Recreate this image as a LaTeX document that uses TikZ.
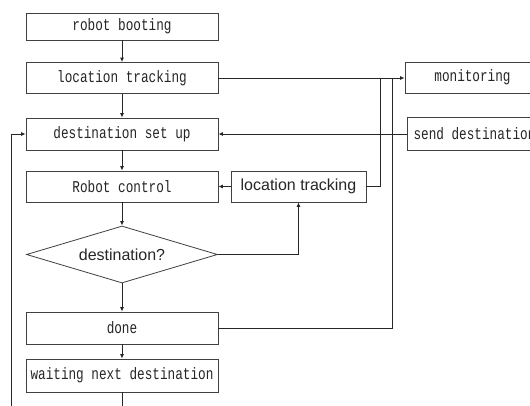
\documentclass[tikz,border=0pt]{standalone}
\usepackage{fontspec}
\setmainfont{Liberation Sans}
\newfontfamily\monofnt[FakeStretch=0.77]{Liberation Mono}
\usetikzlibrary{shapes.geometric,arrows.meta}
\begin{document}
\begin{tikzpicture}[x=1pt,y=-1pt,
  ln/.style={draw=black!85,line width=0.9pt},
  arr/.style={ln,-{Latex[length=4.5pt,width=4pt]}},
  mbox/.style={draw=black!75,line width=0.8pt,rectangle,inner sep=0pt,text=black!85,font=\monofnt\fontsize{16.5}{17}\selectfont},
  sbox/.style={draw=black!75,line width=0.8pt,rectangle,inner sep=0pt,text=black!85,font=\fontsize{16}{17}\selectfont}]
\useasboundingbox[fill=white] (0,0) rectangle (530,405);
\node[mbox,minimum width=192pt,minimum height=27pt] (boot) at (122,26.5) {robot booting};
\node[mbox,minimum width=192pt,minimum height=31pt] (loc1) at (122,78) {location tracking};
\node[mbox,minimum width=192pt,minimum height=32pt] (dest) at (122,134) {destination set up};
\node[mbox,minimum width=192pt,minimum height=31pt] (ctrl) at (122,186.5) {Robot control};
\node[sbox,diamond,minimum width=191pt,minimum height=57pt,aspect=3.35] (dia) at (122,254.5) {destination?};
\node[mbox,minimum width=192pt,minimum height=32pt] (done) at (122,328) {done};
\node[mbox,minimum width=192pt,minimum height=33pt] (wait) at (122,375.5) {waiting next destination};
\node[mbox,minimum width=135pt,minimum height=31pt] (mon) at (472.5,77.5) {monitoring};
\node[mbox,minimum width=135pt,minimum height=33pt] (send) at (474.5,133.5) {send destination};
\node[sbox,minimum width=135pt,minimum height=31pt] (loc2) at (298.5,186.5) {location tracking};
\coordinate (wb) at (122,406);
\coordinate (lb) at (11,406);
\coordinate (j1) at (380,78);
\coordinate (j2) at (392,78);
\draw[arr] (boot) -- (loc1);
\draw[arr] (loc1) -- (dest);
\draw[arr] (dest) -- (ctrl);
\draw[arr] (ctrl) -- (dia);
\draw[arr] (dia) -- (done);
\draw[arr] (done) -- (wait);
\draw[ln] (wait) -- (wb);
\draw[arr] (lb) |- (dest.west);
\draw[arr] (loc1.east) -- (mon.west |- loc1.east);
\draw[ln] (loc2.east) -| (j1);
\draw[ln] (done.east) -| (j2);
\draw[arr] (send.west |- dest.east) -- (dest.east);
\draw[arr] (loc2.west) -- (ctrl.east);
\draw[arr] (dia.east) -| (loc2.south);
\end{tikzpicture}
\end{document}
